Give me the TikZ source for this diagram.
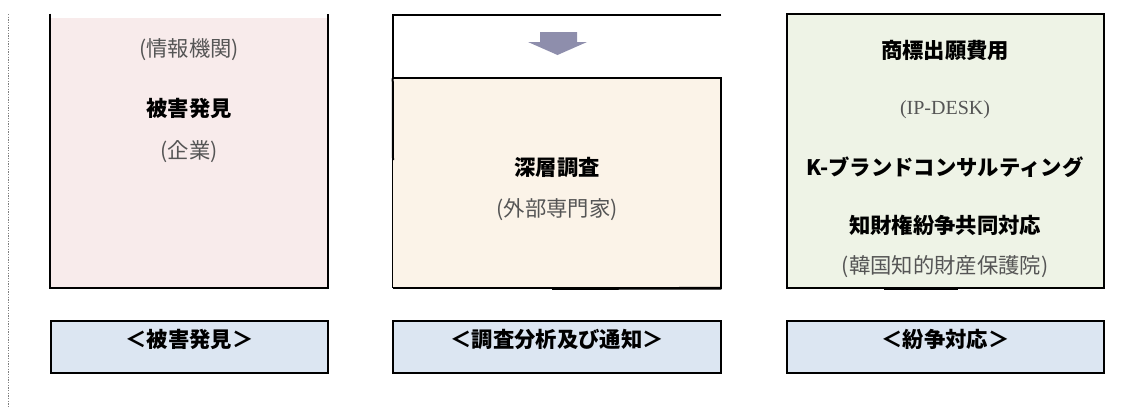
\documentclass[tikz,border=0pt]{standalone}
\definecolor{DiscoverPink}{RGB}{248,235,235}
\definecolor{StudyCream}{RGB}{251,243,232}
\definecolor{ReplyGreen}{RGB}{238,243,230}
\definecolor{TagBlue}{RGB}{220,230,242}
\definecolor{ArrowGray}{RGB}{142,142,172}
\definecolor{NoteGray}{RGB}{85,85,85}
\usepackage{fontspec}
\setmainfont{Liberation Serif}
\newfontfamily\jp{Noto Sans CJK JP}
\usepackage{tikz}
\usetikzlibrary{positioning, calc}

\begin{document}
\begin{tikzpicture}[x=0.75pt, y=-0.75pt,
    main/.style={font=\jp\bfseries\fontsize{16}{19}\selectfont},
    note/.style={font=\jp\fontsize{16}{19}\selectfont, text=NoteGray},
    panel/.style={inner sep=0pt, minimum width=#1},
    tagbox/.style={draw, line width=0.8pt, fill=TagBlue, inner sep=0pt,
                   minimum width=#1, minimum height=39pt}]
  \useasboundingbox (0,0) rectangle (1134,408);
  % left dashed rule
  \draw[gray, line width=0.5pt, dash pattern=on 1pt off 1pt] (8,14) -- (8,408);

  % step 1
  \node[panel=208.5pt, minimum height=202.5pt, fill=DiscoverPink] (discover) at (189,153) {};
  \draw[line width=1.5pt] ([yshift=3pt]discover.north west) |- (discover.south east)
    -- ([yshift=3pt]discover.north east);
  \node[note] (discoverBy) at (189,50) {(情報機関)};
  \node[main] (discoverTitle) at (189,108) {被害発見};
  \node[note] (discoverFrom) at (189,152) {(企業)};

  % step 2
  \node[panel=246pt, minimum height=47.25pt] (arrowcell) at (557,46.5) {};
  \draw[line width=1.5pt] (arrowcell.north east) -- (arrowcell.north west) -- (arrowcell.south west);
  \fill[ArrowGray] (540,32) -- (577,32) -- (577,42) -- (587,42) -- (557.5,55)
    -- (528,42) -- (540,42) -- cycle;
  \node[panel=246pt, minimum height=157.5pt, fill=StudyCream] (study) at (557,183) {};
  \draw[line width=1.5pt] (study.north west) -- (study.north east) -- (study.south east)
    -- (study.south west);
  \draw[line width=0.8pt] (study.north west) -- (study.south west);
  \draw[line width=1.5pt] (arrowcell.south west) -- (393,160);
  \draw[line width=2pt] (552,288.5) -- (study.south east);
  \node[main] (studyTitle) at (557,167) {深層調査};
  \node[note] (studyBy) at (557,210) {(外部専門家)};

  % step 3
  \node[panel=237.75pt, minimum height=205.5pt, fill=ReplyGreen, draw, line width=1.5pt] (reply) at (945.5,151) {};
  \draw[line width=2pt] (884,289) -- (958,289);
  \node[main] (replyFee) at (945,50) {商標出願費用};
  \node[font=\rmfamily\fontsize{15}{18}\selectfont, text=NoteGray] (replyDesk) at (945,110) {(IP-DESK)};
  \node[main] (replyBrand) at (945,167) {K-ブランドコンサルティング};
  \node[main] (replyJoint) at (945,225) {知財権紛争共同対応};
  \node[note] (replyBy) at (945,267) {(韓国知的財産保護院)};

  % stage tags
  \node[tagbox=207.75pt] (tagDiscover) at (189.5,347) {};
  \node[tagbox=246pt] (tagStudy) at (557,347) {};
  \node[tagbox=237.75pt] (tagReply) at (945.5,347) {};
  \node[main] at ([yshift=-14.25pt]tagDiscover.north) {＜被害発見＞};
  \node[main] at ([yshift=-14.25pt]tagStudy.north) {＜調査分析及び通知＞};
  \node[main] at ([yshift=-14.25pt]tagReply.north) {＜紛争対応＞};
\end{tikzpicture}
\end{document}
